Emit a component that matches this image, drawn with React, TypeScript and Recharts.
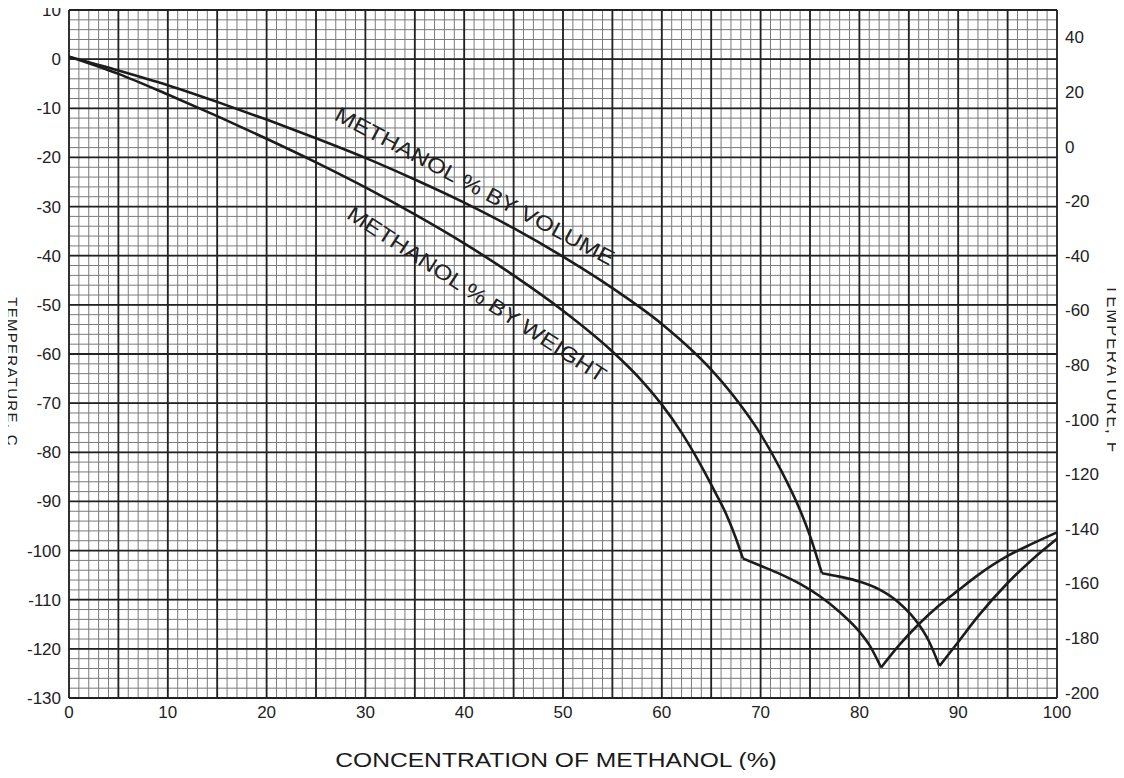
import React from "react";
import {
  LineChart,
  Line,
  XAxis,
  YAxis,
  CartesianGrid,
  ReferenceDot,
} from "recharts";

const X_TICKS = [0, 10, 20, 30, 40, 50, 60, 70, 80, 90, 100];
const C_TICKS = [
  10, 0, -10, -20, -30, -40, -50, -60, -70, -80, -90, -100, -110, -120, -130,
];
const F_TICKS = [
  40, 20, 0, -20, -40, -60, -80, -100, -120, -140, -160, -180, -200,
];

// freezing point (deg C) against methanol %, each curve split at its kinks
const VOLUME_MAIN: [number, number][] = [
  [0, 0.5], [5, -2.3], [10, -5.3], [15, -8.7], [20, -12.3], [25, -16.1],
  [30, -20.1], [35, -24.5], [40, -29.2], [45, -34.4], [50, -40.2],
  [55, -46.6], [60, -53.9], [65, -63.2], [68, -70.5], [70, -76.3],
  [72, -83.4], [74, -91.8], [75, -97], [76.2, -104.6],
];
const VOLUME_MID: [number, number][] = [
  [76.2, -104.6], [78, -105.3], [80, -106.3], [82, -107.9], [84, -110.6],
  [86, -115], [87, -118.3], [88.1, -123.5],
];
const VOLUME_RISE: [number, number][] = [
  [88.1, -123.5], [90, -118.6], [92, -113.4], [95, -106.6], [97.5, -101.8],
  [100, -97.6],
];

const WEIGHT_MAIN: [number, number][] = [
  [0, 0.5], [5, -3], [10, -7.2], [15, -11.6], [20, -16.2], [25, -21],
  [30, -26.1], [35, -31.6], [40, -37.5], [45, -44], [50, -51.2],
  [55, -59.5], [58, -65.5], [60, -70.3], [62, -76], [64, -82.8],
  [65.5, -88.5], [66.5, -92.5], [67.5, -97.5], [68.2, -101.6],
];
const WEIGHT_MID: [number, number][] = [
  [68.2, -101.6], [70, -103.1], [72, -104.8], [74, -106.8], [76, -109.3],
  [78, -112.5], [80, -116.5], [81, -119.2], [82.2, -123.8],
];
const WEIGHT_RISE: [number, number][] = [
  [82.2, -123.8], [84, -119.3], [86, -115], [88, -111.3], [90, -108.1],
  [92, -105], [95, -101.1], [97.5, -98.6], [100, -96.3],
];

const SEGMENTS = [
  VOLUME_MAIN, VOLUME_MID, VOLUME_RISE, WEIGHT_MAIN, WEIGHT_MID, WEIGHT_RISE,
];

// grid: fine lines every 1 % / 2 deg, heavy every 5 % / 10 deg
const GRID_X_MINOR = Array.from({ length: 101 }, (_, i) => i);
const GRID_X_MAJOR = Array.from({ length: 21 }, (_, i) => i * 5);
const GRID_C_MINOR = Array.from({ length: 71 }, (_, i) => 10 - i * 2);

const FONT = "'Liberation Sans', Arial, Helvetica, sans-serif";
const INK = "#1c1c1c";
const tickStyle = { fontSize: 17, fill: "#222", fontFamily: FONT };

const toPoints = (pts: [number, number][]) =>
  pts.map(([x, c]) => ({ x, c }));

function CurveLabel(props: any) {
  const { cx, cy, text, angle, length } = props;
  return (
    <text
      x={cx}
      y={cy}
      transform={`rotate(${angle} ${cx} ${cy})`}
      textAnchor="middle"
      dominantBaseline="central"
      fontSize={21}
      fontFamily={FONT}
      fill="#222"
      textLength={length}
      lengthAdjust="spacingAndGlyphs"
    >
      {text}
    </text>
  );
}

const sideTitle = (left: number, top: number, size: number, spacing: number) =>
  ({
    position: "absolute",
    left,
    top,
    transform: "translate(-50%, -50%) rotate(90deg)",
    fontFamily: FONT,
    fontSize: size,
    letterSpacing: spacing,
    lineHeight: 1,
    color: "#222",
    whiteSpace: "nowrap",
  }) as React.CSSProperties;

export default function App() {
  return (
    <div
      style={{
        position: "relative",
        width: 1124,
        height: 778,
        margin: -8,
        background: "#fff",
        overflow: "hidden",
      }}
    >
      <LineChart
        width={1124}
        height={778}
        margin={{ top: 10, right: 9, bottom: 50, left: 9 }}
      >
        <XAxis
          dataKey="x"
          type="number"
          domain={[0, 100]}
          ticks={X_TICKS}
          interval={0}
          allowDataOverflow
          tickLine={false}
          axisLine={false}
          tick={tickStyle}
        />
        <YAxis
          yAxisId="c"
          type="number"
          domain={[-130, 10]}
          ticks={C_TICKS}
          interval={0}
          allowDataOverflow
          width={60}
          tickLine={false}
          axisLine={false}
          tick={tickStyle}
        />
        <YAxis
          yAxisId="f"
          orientation="right"
          type="number"
          domain={[-202, 50]}
          ticks={F_TICKS}
          interval={0}
          allowDataOverflow
          width={58}
          tickLine={false}
          axisLine={false}
          tick={tickStyle}
        />
        <CartesianGrid
          yAxisId="c"
          verticalValues={GRID_X_MINOR}
          horizontalValues={GRID_C_MINOR}
          stroke="#7a7a7a"
          strokeWidth={1}
        />
        <CartesianGrid
          yAxisId="c"
          verticalValues={GRID_X_MAJOR}
          horizontalValues={C_TICKS}
          stroke="#222"
          strokeWidth={1.8}
        />
        {SEGMENTS.map((seg, i) => (
          <Line
            key={i}
            yAxisId="c"
            data={toPoints(seg)}
            dataKey="c"
            type="monotoneX"
            stroke={INK}
            strokeWidth={2.6}
            dot={false}
            activeDot={false}
            isAnimationActive={false}
          />
        ))}
        <ReferenceDot
          yAxisId="c"
          x={41.1}
          y={-25.8}
          r={0}
          shape={(p: any) => (
            <CurveLabel {...p} text="METHANOL % BY VOLUME" angle={28} length={313} />
          )}
        />
        <ReferenceDot
          yAxisId="c"
          x={41.3}
          y={-47.8}
          r={0}
          shape={(p: any) => (
            <CurveLabel {...p} text="METHANOL % BY WEIGHT" angle={33} length={304} />
          )}
        />
      </LineChart>

      <div
        style={{
          position: "absolute",
          left: 0,
          top: 0,
          width: 2,
          height: 778,
          background: "#444",
        }}
      />
      <div style={sideTitle(12, 372, 15, 1.3)}>TEMPERATURE, C</div>
      <div style={sideTitle(1112, 369, 17, 1.6)}>TEMPERATURE, F</div>
      <div
        style={{
          position: "absolute",
          left: 556,
          top: 760,
          transform: "translate(-50%, -50%) scaleX(1.2)",
          fontFamily: FONT,
          fontSize: 20.5,
          color: "#1a1a1a",
          whiteSpace: "nowrap",
        }}
      >
        CONCENTRATION OF METHANOL (%)
      </div>
    </div>
  );
}
